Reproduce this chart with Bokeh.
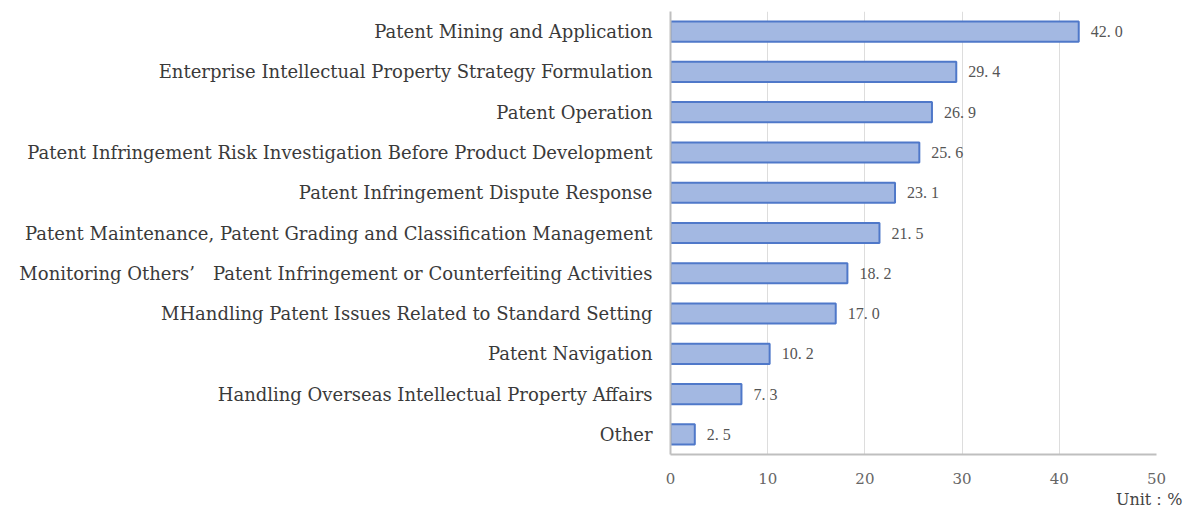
from bokeh.plotting import figure
from bokeh.models import ColumnDataSource, LabelSet, Title, FixedTicker
from bokeh.embed import file_html
from bokeh.resources import INLINE

categories = [
    "Patent Mining and Application",
    "Enterprise Intellectual Property Strategy Formulation",
    "Patent Operation",
    "Patent Infringement Risk Investigation Before Product Development",
    "Patent Infringement Dispute Response",
    "Patent Maintenance, Patent Grading and Classification Management",
    "Monitoring Others\u2019\u3000Patent Infringement or Counterfeiting Activities",
    "MHandling Patent Issues Related to Standard Setting",
    "Patent Navigation",
    "Handling Overseas Intellectual Property Affairs",
    "Other",
]
values = [42.0, 29.4, 26.9, 25.6, 23.1, 21.5, 18.2, 17.0, 10.2, 7.3, 2.5]
value_labels = ["42. 0", "29. 4", "26. 9", "25. 6", "23. 1", "21. 5", "18. 2", "17. 0", "10. 2", "7. 3", "2. 5"]
x_ticks = [0, 10, 20, 30, 40, 50]

FONT = "DejaVu Serif"

src = ColumnDataSource(dict(cat=categories, val=values, lab=value_labels))

p = figure(
    y_range=list(reversed(categories)), x_range=(0, 50),
    width=1185, height=509, output_backend="svg", toolbar_location=None,
    min_border_left=670, min_border_right=29, min_border_top=11, min_border_bottom=52,
)
p.outline_line_color = None
p.hbar(y="cat", right="val", left=0, height=0.5, source=src,
       fill_color="#a3b8e2", line_color="#4f78c9", line_width=2)

labels = LabelSet(x="val", y="cat", text="lab", source=src, x_offset=12, y_offset=0,
                  text_baseline="middle", text_font=FONT, text_font_size="16px",
                  text_color="#555555")
p.add_layout(labels)

p.xaxis.ticker = FixedTicker(ticks=x_ticks)
p.xaxis.major_tick_line_color = None
p.xaxis.minor_tick_line_color = None
p.xaxis.axis_line_color = "#bfbfbf"
p.xaxis.axis_line_width = 2
p.xaxis.major_label_text_font = FONT
p.xaxis.major_label_text_font_size = "15px"
p.xaxis.major_label_text_color = "#666666"
p.xaxis.major_label_standoff = 12

p.yaxis.major_tick_line_color = None
p.yaxis.minor_tick_line_color = None
p.yaxis.axis_line_color = "#bfbfbf"
p.yaxis.axis_line_width = 2
p.yaxis.major_label_text_font = FONT
p.yaxis.major_label_text_font_size = "18px"
p.yaxis.major_label_text_color = "#3a3a3a"
p.yaxis.major_label_standoff = 12

p.ygrid.grid_line_color = None
p.xgrid.grid_line_color = "#dddddd"
p.xgrid.grid_line_width = 1

unit = Title(text="Unit\uff1a%", align="right", offset=-26, text_font=FONT,
             text_font_size="16px", text_font_style="normal", text_color="#444444",
             standoff=2)
p.add_layout(unit, "below")

open("out.html", "w").write(file_html(p, INLINE))
